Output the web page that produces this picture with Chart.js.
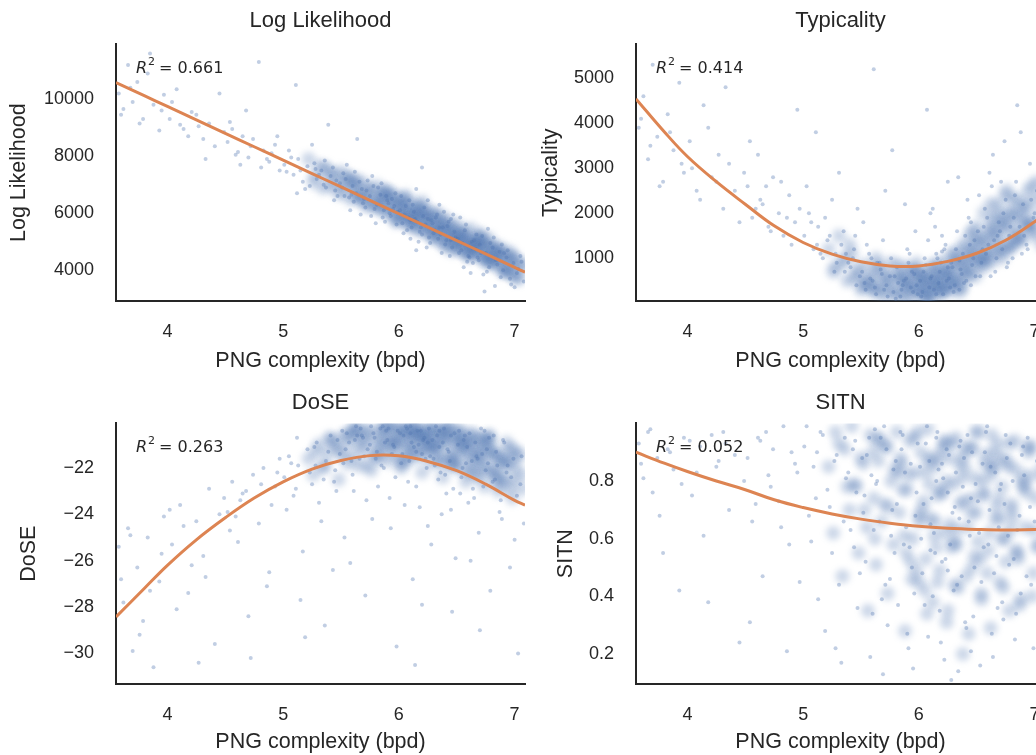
<!DOCTYPE html>
<html>
<head>
<meta charset="utf-8">
<script src="https://cdn.jsdelivr.net/npm/chart.js@4"></script>
<style>
  html, body { margin: 0; padding: 0; background: #fff; }
  #wrap { position: relative; width: 1036px; height: 755px; overflow: hidden; }
  canvas { position: absolute; }
</style>
</head>
<body>
<div id="wrap">
  <canvas id="c-ll" width="540" height="375" style="left:0;top:0"></canvas>
  <canvas id="c-typ" width="540" height="375" style="left:520px;top:0"></canvas>
  <canvas id="c-dose" width="540" height="375" style="left:0;top:380px"></canvas>
  <canvas id="c-sitn" width="540" height="375" style="left:520px;top:380px"></canvas>
</div>
<script>
(function () {
  'use strict';

  // PNG complexity (bpd), shared by all four panels
  var pngBpd = [
    3.58, 3.62, 3.66, 3.70, 3.74, 3.79, 3.83, 3.88, 3.93, 3.97,
    3.60, 3.68, 3.76, 3.85, 3.95, 4.02, 4.08, 4.14, 4.21, 4.27,
    4.04, 4.11, 4.18, 4.25, 4.31, 4.36, 4.41, 4.45, 4.49, 4.33,
    4.52, 4.56, 4.61, 4.65, 4.70, 4.74, 4.79, 4.83, 4.88, 4.93,
    4.54, 4.63, 4.72, 4.81, 4.90, 4.97, 4.68, 4.86, 4.95, 4.59,
    5.01, 5.05, 5.09, 5.13, 5.17, 5.21, 5.25, 5.29, 5.33, 5.37,
    5.41, 5.45, 5.49, 5.03, 5.11, 5.19, 5.27, 5.35, 5.43, 5.47,
    5.07, 5.15, 5.23, 5.31, 5.39, 5.46, 5.12, 5.28, 5.44, 5.36,
    5.51, 5.54, 5.57, 5.60, 5.63, 5.66, 5.69, 5.72, 5.75, 5.78,
    5.81, 5.84, 5.87, 5.90, 5.93, 5.96, 5.99, 5.52, 5.58, 5.64,
    5.70, 5.76, 5.82, 5.88, 5.94, 5.98, 5.55, 5.61, 5.67, 5.73,
    5.79, 5.85, 5.91, 5.97, 5.53, 5.62, 5.71, 5.80, 5.89, 5.95,
    5.59, 5.68, 5.77, 5.86, 5.92, 6.01, 6.03, 6.06, 6.08, 6.11,
    6.13, 6.16, 6.18, 6.21, 6.23, 6.26, 6.28, 6.31, 6.33, 6.36,
    6.38, 6.41, 6.43, 6.46, 6.48, 6.02, 6.07, 6.12, 6.17, 6.22,
    6.27, 6.32, 6.37, 6.42, 6.47, 6.04, 6.09, 6.14, 6.19, 6.24,
    6.29, 6.34, 6.39, 6.44, 6.49, 6.05, 6.10, 6.15, 6.20, 6.25,
    6.30, 6.35, 6.40, 6.45, 6.15, 6.25, 6.35, 6.45, 6.10, 6.20,
    6.51, 6.54, 6.57, 6.60, 6.63, 6.66, 6.69, 6.72, 6.75, 6.78,
    6.81, 6.84, 6.87, 6.90, 6.93, 6.96, 6.99, 7.02, 7.05, 7.08,
    6.52, 6.58, 6.64, 6.70, 6.76, 6.82, 6.88, 6.94, 7.00, 7.06,
    6.55, 6.61, 6.67, 6.73, 6.79, 6.85, 6.91, 6.97, 7.03, 6.53,
    6.59, 6.65, 6.71, 6.77, 6.83, 6.89, 6.56, 6.62, 6.68, 6.74
  ];

  // extra samples from the dense middle of the clouds
  var pngBpdCore = [
    5.22, 5.26, 5.31, 5.34, 5.38, 5.42, 5.48, 5.50, 5.53, 5.56,
    5.58, 5.61, 5.63, 5.65, 5.68, 5.71, 5.73, 5.76, 5.78, 5.81,
    5.83, 5.85, 5.88, 5.90, 5.92, 5.95, 5.97, 6.00, 6.02, 6.04,
    6.06, 6.08, 6.10, 6.12, 6.14, 6.16, 6.18, 6.20, 6.22, 6.24,
    6.26, 6.28, 6.30, 6.32, 6.34, 6.36, 6.38, 6.40, 6.42, 6.44,
    6.46, 6.48, 6.50, 6.52, 6.54, 6.56, 6.58, 6.60, 6.62, 6.64,
    6.66, 6.68, 6.70, 6.72, 6.74, 6.76, 6.78, 6.80, 6.83, 6.86,
    6.89, 6.92, 6.95, 6.98, 7.01, 7.04, 7.07, 5.44, 5.64, 5.84,
    5.87, 5.91, 5.94, 5.99, 6.03, 6.07, 6.11, 6.15, 6.19, 6.23,
    6.27, 6.31, 6.35, 6.39, 6.43, 6.47, 6.51, 6.55, 6.59, 6.63,
    6.67, 6.71, 6.75, 6.79, 6.84, 6.88, 6.93, 6.97, 7.02, 7.06,
    5.60, 5.70, 5.79, 5.89, 5.96, 6.01, 6.05, 6.09, 6.13, 6.17,
    6.21, 6.25, 6.29, 6.33, 6.37, 6.41, 6.45, 6.49, 6.53, 6.57,
    6.61, 6.65, 6.69, 6.73, 6.77, 6.81, 6.85, 6.90, 6.94, 6.99,
    5.36, 5.46, 5.55, 5.66, 5.74, 5.82, 5.93, 6.00, 6.08, 6.16,
    6.24, 6.32, 6.40, 6.48, 6.56, 6.64, 6.72, 6.80, 6.87, 6.96,
    5.28, 5.40, 5.52, 5.62, 5.72, 5.86, 5.98, 6.06, 6.14, 6.22,
    6.30, 6.38, 6.46, 6.54, 6.62, 6.70, 6.78, 6.84, 6.91, 7.00
  ];

  var logLikelihood = [
    10200, 9650, 11200, 9900, 10600, 9300, 10900, 9800, 8900, 10150,
    9450, 10400, 9150, 11600, 9600, 9300, 10350, 8950, 9550, 9050,
    9900, 9100, 8700, 9450, 8600, 9150, 8350, 10200, 8850, 7900,
    8500, 8950, 8150, 8700, 7950, 8600, 11300, 8200, 7800, 8400,
    9200, 7700, 8350, 7600, 8100, 7500, 9600, 7900, 8700, 8050,
    7700, 8200, 7350, 7900, 7100, 7650, 8400, 7200, 7500, 6900,
    7300, 6800, 7050, 7450, 10500, 6850, 7750, 7000, 7600, 6600,
    7950, 7500, 6950, 7350, 9100, 7150, 6700, 7550, 6450, 7850,
    6900, 7200, 6550, 6950, 6700, 7100, 6350, 6800, 6600, 6950,
    6300, 6650, 6100, 6450, 5900, 6250, 6050, 7400, 6100, 8600,
    6500, 5900, 6900, 5700, 6500, 5600, 7700, 6400, 5950, 7150,
    6150, 7050, 6350, 6700, 6600, 7450, 6200, 5650, 6600, 6150,
    6650, 6850, 7300, 5850, 6000, 6100, 5650, 6250, 5850, 5500,
    6050, 5700, 5350, 5900, 5600, 5150, 5750, 5400, 5950, 5250,
    5500, 5050, 5700, 4800, 5350, 6600, 5400, 6300, 5000, 6200,
    4950, 5850, 4600, 5550, 5950, 5300, 6450, 5800, 5500, 4800,
    5650, 5100, 6050, 4500, 5150, 5950, 5100, 6850, 5250, 5800,
    5300, 6300, 4900, 5800, 4700, 6450, 5500, 5050, 5750, 7600,
    5100, 4700, 5400, 4500, 5000, 4750, 4350, 5200, 4600, 4100,
    4800, 4350, 4650, 4000, 4450, 3700, 4250, 3900, 4500, 3600,
    4600, 5600, 4250, 4900, 3950, 5150, 3750, 4700, 3400, 4300,
    4950, 4450, 5250, 3850, 4950, 4200, 4600, 3500, 4050, 5850,
    4300, 5050, 4600, 5450, 3450, 4900, 4100, 3900, 4450, 3250
  ];
  var logLikelihoodCore = [
    7900, 7100, 7650, 6900, 7500, 7300, 6700, 7450, 7050, 7250,
    6500, 7200, 6900, 6600, 7100, 6400, 6850, 6700, 6250, 6950,
    6550, 6200, 6750, 6000, 6400, 6650, 5850, 6300, 6500, 5950,
    6200, 5700, 6350, 5950, 5600, 6150, 5850, 6400, 5500, 6050,
    5800, 5300, 6000, 5550, 5200, 5900, 5650, 5000, 5750, 5400,
    5400, 4900, 5600, 5150, 4750, 5350, 5050, 4600, 5450, 4950,
    5000, 4600, 5250, 4450, 4850, 4300, 5100, 4700, 4200, 4550,
    4400, 4050, 4650, 3900, 4300, 3750, 4150, 7350, 6600, 6150,
    6700, 6100, 6450, 5800, 6250, 5950, 5650, 6100, 5400, 5850,
    5650, 5150, 5450, 4950, 5300, 5050, 4750, 5200, 4550, 4900,
    4800, 5100, 4500, 4850, 4350, 4600, 4000, 4450, 3700, 4200,
    7000, 6550, 6300, 6800, 6150, 5850, 6500, 6000, 5750, 6250,
    5950, 5500, 5800, 5350, 5650, 5200, 5500, 4900, 5250, 4700,
    5050, 4750, 5200, 4450, 4800, 4250, 4650, 4000, 4500, 3850,
    7600, 7000, 7250, 6550, 6850, 6400, 6600, 6300, 5600, 5900,
    5350, 5950, 4850, 5150, 4950, 4650, 5000, 4400, 4800, 4250,
    7300, 6950, 6750, 7050, 6250, 6550, 5700, 6600, 5450, 6150,
    5100, 5550, 4700, 5300, 4500, 4950, 4350, 4750, 3950, 4450
  ];

  var typicality = [
    3900, 4600, 3200, 5300, 3700, 2700, 4200, 3400, 4900, 2900,
    4100, 3500, 2600, 3800, 3100, 3600, 2500, 4400, 2800, 3300,
    3000, 2300, 3900, 2700, 2100, 3100, 2500, 1800, 2900, 4800,
    2600, 1900, 3300, 2200, 1700, 2800, 2000, 1500, 2400, 1800,
    3600, 2300, 1600, 2700, 1300, 2100, 2600, 1900, 4300, 2100,
    1500, 2000, 1200, 1700, 1000, 1400, 2300, 900, 1300, 1100,
    800, 1500, 600, 2600, 3800, 1900, 700, 1600, 1000, 2100,
    1800, 1100, 1500, 2900, 900, 400, 1300, 1100, 1200, 700,
    700, 300, 1100, 500, 200, 900, 1400, 400, 600, 250,
    800, 150, 500, 1200, 350, 650, 200, 1800, 550, 900,
    300, 1000, 450, 2200, 700, 400, 1300, 5200, 750, 150,
    600, 300, 900, 1600, 450, 350, 2500, 100, 550, 250,
    1000, 650, 3400, 400, 1100, 500, 250, 850, 1400, 600,
    300, 1000, 700, 200, 1300, 550, 900, 400, 1600, 750,
    1100, 500, 1900, 850, 1400, 150, 4300, 2100, 450, 1200,
    350, 1200, 650, 2300, 1000, 700, 350, 1700, 900, 500,
    800, 2800, 450, 1300, 600, 1000, 550, 200, 1500, 2700,
    250, 950, 1500, 400, 1100, 800, 300, 1800, 2000, 1150,
    1600, 900, 2100, 1300, 2600, 700, 1800, 1200, 2300, 1500,
    1000, 2700, 1700, 2200, 1300, 3100, 1900, 2500, 1400, 2900,
    2400, 1100, 3300, 1600, 800, 1900, 3800, 1200, 2000, 1600,
    1200, 2900, 1000, 2000, 1700, 4400, 1500, 2300, 1100, 600,
    1900, 1400, 2700, 900, 2400, 1100, 1700, 600, 1500, 3600
  ];
  var typicalityCore = [
    1200, 700, 1500, 900, 500, 1100, 650, 300, 850, 450,
    600, 250, 1000, 400, 750, 150, 550, 900, 300, 650,
    200, 500, 800, 350, 100, 650, 450, 250, 700, 400,
    150, 550, 300, 850, 450, 200, 650, 350, 950, 500,
    700, 300, 1100, 550, 850, 400, 1300, 650, 950, 1500,
    750, 1200, 1700, 950, 1400, 2000, 1100, 1600, 900, 1900,
    1300, 2200, 1500, 1000, 1800, 2500, 1200, 2000, 1600, 2300,
    1400, 2100, 1700, 2600, 1500, 2000, 2400, 550, 850, 600,
    150, 400, 700, 250, 550, 100, 750, 450, 300, 650,
    400, 900, 250, 1200, 600, 1000, 1450, 800, 1250, 1750,
    1100, 1700, 2400, 1300, 1900, 1500, 2200, 1800, 2700, 1300,
    350, 600, 200, 450, 750, 300, 600, 150, 400, 550,
    250, 700, 500, 950, 350, 800, 1150, 600, 1000, 1400,
    1000, 1500, 2000, 1200, 1700, 2300, 1400, 1900, 2500, 1600,
    1000, 750, 450, 250, 500, 850, 300, 600, 200, 850,
    750, 500, 1000, 1300, 1050, 1600, 1850, 1300, 2100, 1750,
    800, 1300, 400, 700, 350, 550, 900, 450, 650, 300,
    1100, 700, 1600, 900, 2200, 1200, 2000, 1450, 1750, 2300
  ];

  var dose = [
    -25.4, -27.8, -24.6, -29.9, -26.3, -28.6, -25.0, -30.6, -26.9, -24.1,
    -26.8, -24.9, -29.2, -27.3, -25.7, -23.8, -28.1, -24.5, -26.2, -30.4,
    -25.3, -23.6, -27.4, -24.3, -25.8, -22.9, -29.6, -24.0, -23.3, -26.7,
    -23.9, -22.6, -25.2, -23.1, -28.4, -22.3, -24.4, -22.0, -26.5, -22.8,
    -24.7, -23.4, -30.2, -22.7, -23.6, -21.6, -23.0, -27.1, -22.2, -24.1,
    -22.4, -21.5, -23.2, -21.9, -25.6, -21.2, -22.7, -20.9, -24.3, -21.7,
    -20.6, -22.1, -21.4, -23.8, -22.9, -29.3, -21.1, -22.5, -26.4, -20.8,
    -21.8, -27.7, -22.2, -23.5, -21.3, -23.0, -20.7, -21.9, -22.6, -28.8,
    -20.4, -21.2, -20.9, -22.3, -20.2, -21.6, -20.7, -23.4, -21.0, -20.5,
    -21.3, -20.3, -22.0, -20.8, -24.6, -21.1, -20.4, -21.8, -26.1, -20.6,
    -21.5, -20.2, -22.8, -20.9, -21.4, -29.7, -20.5, -23.0, -20.3, -21.2,
    -20.7, -21.9, -20.3, -22.4, -25.0, -20.8, -27.5, -21.6, -20.4, -21.0,
    -21.7, -20.6, -24.2, -20.2, -23.3, -20.5, -21.4, -20.2, -22.6, -20.9,
    -21.1, -20.4, -23.7, -20.8, -21.6, -20.3, -25.3, -21.9, -20.6, -22.2,
    -20.9, -23.1, -21.3, -28.2, -20.5, -21.8, -20.3, -26.8, -21.0, -20.7,
    -21.5, -20.2, -24.0, -21.2, -22.9, -20.6, -21.7, -30.5, -20.4, -22.0,
    -20.8, -22.5, -20.3, -21.7, -25.9, -23.6, -20.5, -21.3, -27.9, -20.9,
    -21.6, -20.4, -22.3, -20.6, -22.8, -24.5, -21.1, -23.8, -20.2, -21.4,
    -21.0, -22.4, -20.6, -23.5, -21.7, -20.9, -24.8, -21.4, -22.1, -20.7,
    -22.6, -21.3, -23.9, -20.8, -22.2, -26.3, -21.6, -23.2, -22.7, -24.4,
    -20.4, -21.8, -22.9, -29.0, -21.2, -20.6, -23.4, -21.9, -25.1, -21.5,
    -22.0, -20.5, -21.5, -22.8, -27.3, -21.9, -20.9, -22.4, -30.0, -23.1,
    -21.1, -23.3, -20.3, -21.8, -22.5, -24.2, -20.8, -26.0, -21.6, -20.4
  ];
  var doseCore = [
    -21.6, -22.3, -21.0, -22.0, -21.4, -20.8, -22.5, -21.2, -20.6, -21.8,
    -20.9, -21.5, -20.3, -21.9, -20.7, -21.2, -20.4, -22.1, -20.8, -21.4,
    -20.5, -21.1, -20.2, -21.7, -20.9, -20.3, -21.4, -20.6, -22.0, -20.4,
    -21.0, -20.3, -21.6, -20.7, -20.2, -21.3, -20.5, -22.2, -20.8, -21.1,
    -20.4, -21.8, -20.9, -20.3, -21.5, -20.6, -22.4, -21.0, -20.2, -21.7,
    -20.8, -21.4, -20.4, -22.0, -21.1, -20.7, -22.6, -21.3, -20.5, -21.9,
    -21.2, -22.3, -20.7, -21.6, -22.8, -21.0, -20.6, -22.2, -21.5, -23.0,
    -21.8, -22.5, -21.2, -23.3, -22.0, -21.4, -22.9, -20.9, -20.3, -21.0,
    -20.7, -21.3, -20.2, -20.9, -21.8, -20.4, -21.2, -20.6, -21.5, -20.3,
    -21.0, -20.5, -21.6, -20.8, -20.3, -21.9, -20.6, -21.2, -22.2, -20.9,
    -21.5, -20.8, -22.0, -21.3, -22.6, -21.7, -20.9, -22.9, -21.5, -22.3,
    -20.4, -20.8, -21.5, -20.3, -21.0, -21.7, -20.5, -20.9, -20.2, -21.2,
    -20.6, -21.3, -20.3, -21.0, -21.8, -20.5, -21.4, -20.8, -20.4, -21.6,
    -20.9, -21.6, -22.4, -21.1, -20.7, -22.1, -21.4, -22.7, -21.9, -21.2,
    -21.9, -21.2, -20.6, -21.1, -20.4, -21.6, -20.8, -20.3, -21.3, -20.6,
    -20.7, -21.1, -20.4, -21.8, -21.0, -20.6, -21.9, -21.3, -22.4, -21.7,
    -21.3, -20.7, -21.5, -20.5, -21.9, -20.3, -20.9, -21.6, -20.4, -20.8,
    -21.2, -20.5, -21.7, -20.9, -22.1, -21.4, -20.8, -22.3, -21.6, -22.5
  ];

  var sitn = [
    0.93, 0.81, 0.97, 0.76, 0.88, 0.55, 0.91, 0.84, 0.42, 0.95,
    0.86, 0.98, 0.68, 0.90, 0.79, 0.94, 0.83, 0.61, 0.96, 0.87,
    0.75, 0.92, 0.38, 0.85, 0.97, 0.70, 0.89, 0.24, 0.80, 0.93,
    0.88, 0.66, 0.95, 0.47, 0.82, 0.91, 0.73, 0.99, 0.58, 0.86,
    0.31, 0.94, 0.78, 0.64, 0.90, 0.45, 0.97, 0.21, 0.83, 0.72,
    0.92, 0.68, 0.85, 0.39, 0.96, 0.77, 0.55, 0.89, 0.17, 0.81,
    0.63, 0.94, 0.48, 0.99, 0.74, 0.28, 0.87, 0.66, 0.91, 0.36,
    0.59, 0.97, 0.71, 0.44, 0.83, 0.76, 0.90, 0.22, 0.57, 0.95,
    0.88, 0.52, 0.95, 0.34, 0.79, 0.66, 0.13, 0.91, 0.46, 0.84,
    0.72, 0.97, 0.58, 0.27, 0.86, 0.41, 0.93, 0.69, 0.19, 0.80,
    0.99, 0.61, 0.37, 0.83, 0.50, 0.76, 0.89, 0.63, 0.95, 0.30,
    0.55, 0.91, 0.22, 0.68, 0.75, 0.98, 0.44, 0.87, 0.64, 0.15,
    0.82, 0.39, 0.70, 0.96, 0.57, 0.85, 0.48, 0.93, 0.26, 0.74,
    0.62, 0.97, 0.35, 0.81, 0.53, 0.89, 0.11, 0.71, 0.44, 0.94,
    0.78, 0.29, 0.66, 0.90, 0.50, 0.60, 0.99, 0.40, 0.84, 0.18,
    0.58, 0.83, 0.47, 0.96, 0.33, 0.72, 0.87, 0.55, 0.24, 0.91,
    0.69, 0.14, 0.88, 0.61, 0.79, 0.37, 0.65, 0.95, 0.52, 0.76,
    0.42, 0.92, 0.31, 0.74, 0.80, 0.49, 0.67, 0.21, 0.56, 0.86,
    0.73, 0.45, 0.90, 0.58, 0.27, 0.83, 0.64, 0.38, 0.96, 0.51,
    0.80, 0.34, 0.68, 0.92, 0.47, 0.71, 0.22, 0.87, 0.59, 0.76,
    0.62, 0.97, 0.19, 0.77, 0.88, 0.53, 0.41, 0.95, 0.66, 0.30,
    0.86, 0.70, 0.54, 0.32, 0.93, 0.63, 0.82, 0.44, 0.75, 0.16,
    0.99, 0.48, 0.79, 0.61, 0.25, 0.89, 0.57, 0.85, 0.36, 0.72
  ];
  var sitnCore = [
    0.85, 0.62, 0.93, 0.47, 0.78, 0.99, 0.55, 0.88, 0.70, 0.35,
    0.96, 0.74, 0.51, 0.87, 0.66, 0.92, 0.41, 0.80, 0.58, 0.97,
    0.69, 0.86, 0.28, 0.77, 0.94, 0.60, 0.83, 0.45, 0.90, 0.73,
    0.53, 0.98, 0.67, 0.38, 0.85, 0.75, 0.49, 0.91, 0.62, 0.31,
    0.88, 0.57, 0.79, 0.95, 0.43, 0.72, 0.20, 0.84, 0.64, 0.92,
    0.50, 0.81, 0.69, 0.97, 0.39, 0.76, 0.89, 0.56, 0.29, 0.85,
    0.67, 0.93, 0.45, 0.78, 0.60, 0.87, 0.35, 0.72, 0.94, 0.53,
    0.81, 0.64, 0.90, 0.40, 0.74, 0.58, 0.85, 0.79, 0.94, 0.88,
    0.61, 0.82, 0.46, 0.97, 0.70, 0.34, 0.88, 0.57, 0.77, 0.93,
    0.65, 0.44, 0.86, 0.73, 0.27, 0.91, 0.59, 0.80, 0.48, 0.96,
    0.71, 0.88, 0.52, 0.63, 0.84, 0.39, 0.76, 0.92, 0.57, 0.82,
    0.90, 0.72, 0.84, 0.55, 0.95, 0.66, 0.42, 0.79, 0.61, 0.88,
    0.76, 0.35, 0.93, 0.58, 0.81, 0.47, 0.69, 0.97, 0.53, 0.86,
    0.62, 0.90, 0.74, 0.43, 0.85, 0.67, 0.55, 0.78, 0.92, 0.48,
    0.91, 0.78, 0.64, 0.95, 0.71, 0.83, 0.52, 0.68, 0.87, 0.45,
    0.80, 0.63, 0.91, 0.54, 0.75, 0.85, 0.60, 0.70, 0.37, 0.82,
    0.97, 0.70, 0.86, 0.60, 0.92, 0.77, 0.49, 0.83, 0.66, 0.94,
    0.59, 0.88, 0.74, 0.41, 0.82, 0.67, 0.93, 0.56, 0.79, 0.63
  ];

  // fitted curves
  var fitX = [3.556, 3.8, 4.0, 4.25, 4.5, 4.75, 5.0, 5.25, 5.5, 5.75, 6.0, 6.25, 6.5, 6.75, 7.0, 7.09];
  var fitLL = [10580, 10120, 9745, 9275, 8800, 8330, 7860, 7390, 6920, 6450, 5980, 5510, 5040, 4570, 4100, 3930];
  var fitTyp = [4540, 3810, 3260, 2700, 2200, 1720, 1350, 1090, 920, 830, 830, 930, 1110, 1400, 1810, 1980];
  var fitDose = [-28.43, -27.2, -26.2, -25.1, -24.15, -23.3, -22.6, -22.05, -21.68, -21.47, -21.48, -21.72, -22.12, -22.7, -23.4, -23.6];
  var fitSitn = [0.900, 0.862, 0.833, 0.800, 0.770, 0.735, 0.708, 0.686, 0.668, 0.654, 0.643, 0.636, 0.632, 0.630, 0.632, 0.633];

  var xTicks = [4, 5, 6, 7];
  var llTicks = [4000, 6000, 8000, 10000];
  var typTicks = [1000, 2000, 3000, 4000, 5000];
  var doseTicks = [-30, -28, -26, -24, -22];
  var sitnTicks = [0.2, 0.4, 0.6, 0.8];

  var INK = '#262626';
  var FONT = '"Liberation Sans", Arial, sans-serif';
  Chart.defaults.font.family = FONT;
  Chart.defaults.color = INK;

  var r2Plugin = {
    id: 'r2label',
    afterDatasetsDraw: function (chart, args, opts) {
      var ctx = chart.ctx;
      var a = chart.chartArea;
      var x = a.left + 20;
      var y = a.top + 29;
      ctx.save();
      ctx.fillStyle = INK;
      ctx.textBaseline = 'alphabetic';
      ctx.font = 'italic 16px "DejaVu Sans"';
      ctx.fillText('R', x, y);
      x += ctx.measureText('R').width + 1;
      ctx.font = '11px "DejaVu Sans"';
      ctx.fillText('2', x, y - 8);
      x += ctx.measureText('2').width + 4;
      ctx.font = '16px "DejaVu Sans"';
      ctx.fillText('= ' + opts.value, x, y);
      ctx.restore();
    }
  };

  // soften the dense-core marks so they read as a cloud
  var hazePlugin = {
    id: 'haze',
    beforeDatasetDraw: function (chart, args) {
      if (args.index !== 2) return;
      chart.ctx.save();
      chart.ctx.filter = 'blur(3px)';
    },
    afterDatasetDraw: function (chart, args) {
      if (args.index !== 2) return;
      chart.ctx.restore();
    }
  };

  function toPoints(xs, ys) {
    return xs.map(function (x, i) { return { x: x, y: ys[i] }; });
  }

  function fmt(v) {
    return v < 0 ? '\u2212' + Math.abs(v) : String(v);
  }

  function makePanel(id, cfg) {
    new Chart(document.getElementById(id), {
      type: 'scatter',
      data: {
        datasets: [
          {
            type: 'line',
            data: toPoints(fitX, cfg.fit),
            borderColor: '#DD8452',
            borderWidth: 3,
            pointRadius: 0,
            fill: false,
            tension: 0.4,
            clip: 0
          },
          {
            data: toPoints(pngBpd, cfg.values),
            backgroundColor: 'rgba(76, 114, 176, 0.35)',
            borderWidth: 0,
            pointRadius: 2,
            clip: 0
          },
          {
            // dense part of the cloud, drawn as soft wide marks
            data: toPoints(pngBpdCore, cfg.core),
            backgroundColor: 'rgba(76, 114, 176, 0.28)',
            borderWidth: 0,
            pointRadius: 7,
            clip: 0
          }
        ]
      },
      options: {
        responsive: false,
        animation: false,
        events: [],
        layout: { padding: { right: 13 } },
        plugins: {
          legend: { display: false },
          tooltip: { enabled: false },
          title: {
            display: true,
            text: cfg.title,
            fullSize: false,
            color: INK,
            font: { size: 22, weight: 'normal' },
            padding: { top: cfg.titleTop, bottom: cfg.titleBottom }
          },
          r2label: { value: cfg.r2 }
        },
        scales: {
          x: {
            type: 'linear',
            min: 3.556,
            max: 7.09,
            grid: { display: false, drawTicks: false },
            border: { display: true, color: INK, width: 2 },
            afterBuildTicks: function (s) { s.ticks = xTicks.map(function (v) { return { value: v }; }); },
            afterFit: function (s) { s.height = cfg.xHeight; },
            ticks: { font: { size: 18 }, color: INK, padding: 20, maxRotation: 0, callback: fmt },
            title: {
              display: true,
              text: 'PNG complexity (bpd)',
              color: INK,
              font: { size: 21.5 },
              padding: { top: 0, bottom: cfg.xTitlePad }
            }
          },
          y: {
            type: 'linear',
            min: cfg.min,
            max: cfg.max,
            grid: { display: false, drawTicks: false },
            border: { display: true, color: INK, width: 2 },
            afterBuildTicks: function (s) { s.ticks = cfg.ticks.map(function (v) { return { value: v }; }); },
            afterFit: function (s) { s.width = 116; },
            ticks: { font: { size: 18 }, color: INK, padding: 22, callback: fmt },
            title: {
              display: true,
              text: cfg.title,
              color: INK,
              font: { size: 21.5 },
              padding: { top: cfg.yTitlePad, bottom: 0 }
            }
          }
        }
      },
      plugins: [hazePlugin, r2Plugin]
    });
  }

  makePanel('c-ll', {
    title: 'Log Likelihood', values: logLikelihood, core: logLikelihoodCore, fit: fitLL, ticks: llTicks,
    min: 2920, max: 11920, r2: '0.661',
    titleTop: 8, titleBottom: 10, xHeight: 74, xTitlePad: 1, yTitlePad: 6
  });
  makePanel('c-typ', {
    title: 'Typicality', values: typicality, core: typicalityCore, fit: fitTyp, ticks: typTicks,
    min: 50, max: 5750, r2: '0.414',
    titleTop: 8, titleBottom: 10, xHeight: 74, xTitlePad: 1, yTitlePad: 18
  });
  makePanel('c-dose', {
    title: 'DoSE', values: dose, core: doseCore, fit: fitDose, ticks: doseTicks,
    min: -31.32, max: -20.08, r2: '0.263',
    titleTop: 10, titleBottom: 7, xHeight: 71, xTitlePad: 0, yTitlePad: 16
  });
  makePanel('c-sitn', {
    title: 'SITN', values: sitn, core: sitnCore, fit: fitSitn, ticks: sitnTicks,
    min: 0.096, max: 1.0, r2: '0.052',
    titleTop: 10, titleBottom: 7, xHeight: 71, xTitlePad: 0, yTitlePad: 33
  });
})();
</script>
</body>
</html>
